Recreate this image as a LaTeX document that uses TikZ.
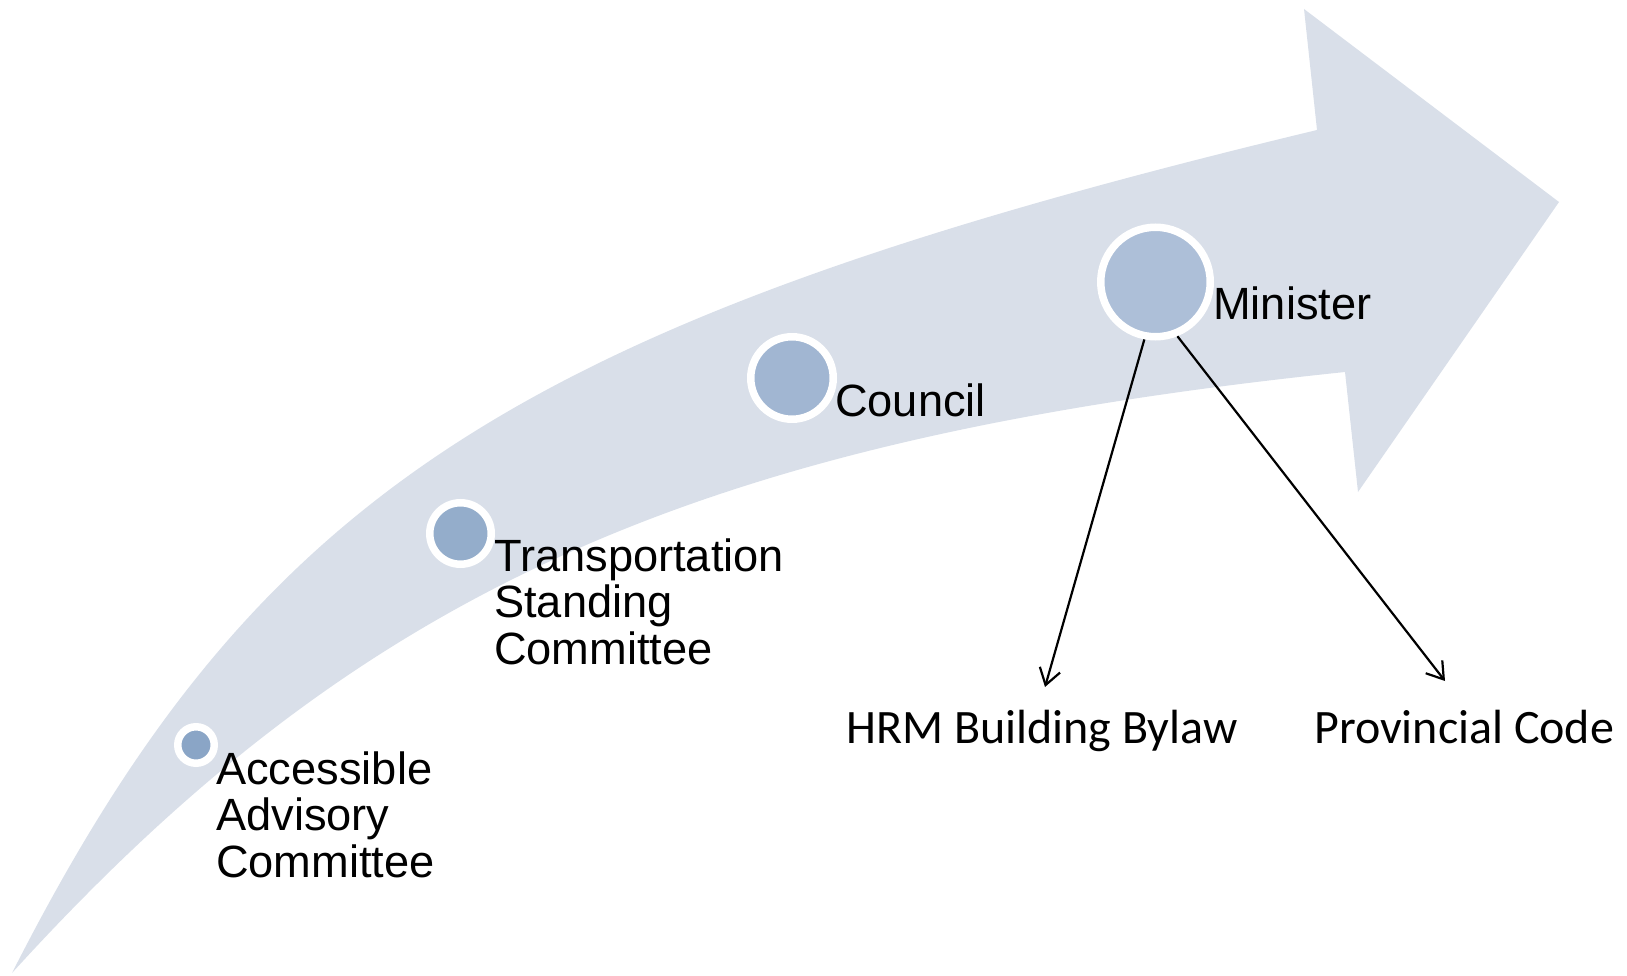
\documentclass[tikz,border=0pt]{standalone}
\usepackage{fontspec}
\setmainfont{Liberation Sans}
\newfontfamily\calib{Carlito}
\usetikzlibrary{arrows.meta}
\definecolor{band}{HTML}{D9DFE9}
\definecolor{cA}{HTML}{8AA5C6}
\definecolor{cB}{HTML}{94ADCB}
\definecolor{cC}{HTML}{A1B6D2}
\definecolor{cD}{HTML}{ADBFD8}
\begin{document}
\begin{tikzpicture}[x=1pt,y=-1pt,
  dot/.style={circle, draw=white, line width=7.5pt, inner sep=0pt},
  lbl/.style={anchor=base west, inner sep=0pt, align=left, font=\fontsize{45.2}{46.5}\selectfont},
  cal/.style={anchor=base west, inner sep=0pt, font=\calib\fontsize{48}{50}\selectfont},
  conn/.style={line width=2.2pt, -{Straight Barb[length=16pt,width=21pt]}}]
\useasboundingbox (0,0) rectangle (1627,976);
\fill[band] (12,973) .. controls (257,491) and (518,322) .. (1317,130) -- (1304,9) -- (1559,202) -- (1358,492) -- (1345,372) .. controls (693,440) and (360,590.5) .. cycle;
\node[dot, fill=cA, minimum size=36.5pt] (aac) at (196,745) {};
\node[dot, fill=cB, minimum size=61.5pt] (tsc) at (460.5,533.5) {};
\node[dot, fill=cC, minimum size=82.5pt] (cou) at (792,378) {};
\node[dot, fill=cD, minimum size=109.5pt] (min) at (1155.5,282) {};
\node[lbl] (aact) at (216,877) {Accessible\\Advisory\\Committee};
\node[lbl] (tsct) at (494,664) {Transportation\\Standing\\Committee};
\node[lbl] (cout) at (835,416) {Council};
\node[lbl] (mint) at (1213,319) {Minister};
\node[cal] (hrm) at (846,743) {HRM Building Bylaw};
\node[cal] (prov) at (1314,743) {Provincial Code};
\coordinate (hrmtip) at (1045,687);
\coordinate (provtip) at (1445,681);
\draw[conn] (min.-101) -- (hrmtip);
\draw[conn] (min.-68) -- (provtip);
\end{tikzpicture}
\end{document}
